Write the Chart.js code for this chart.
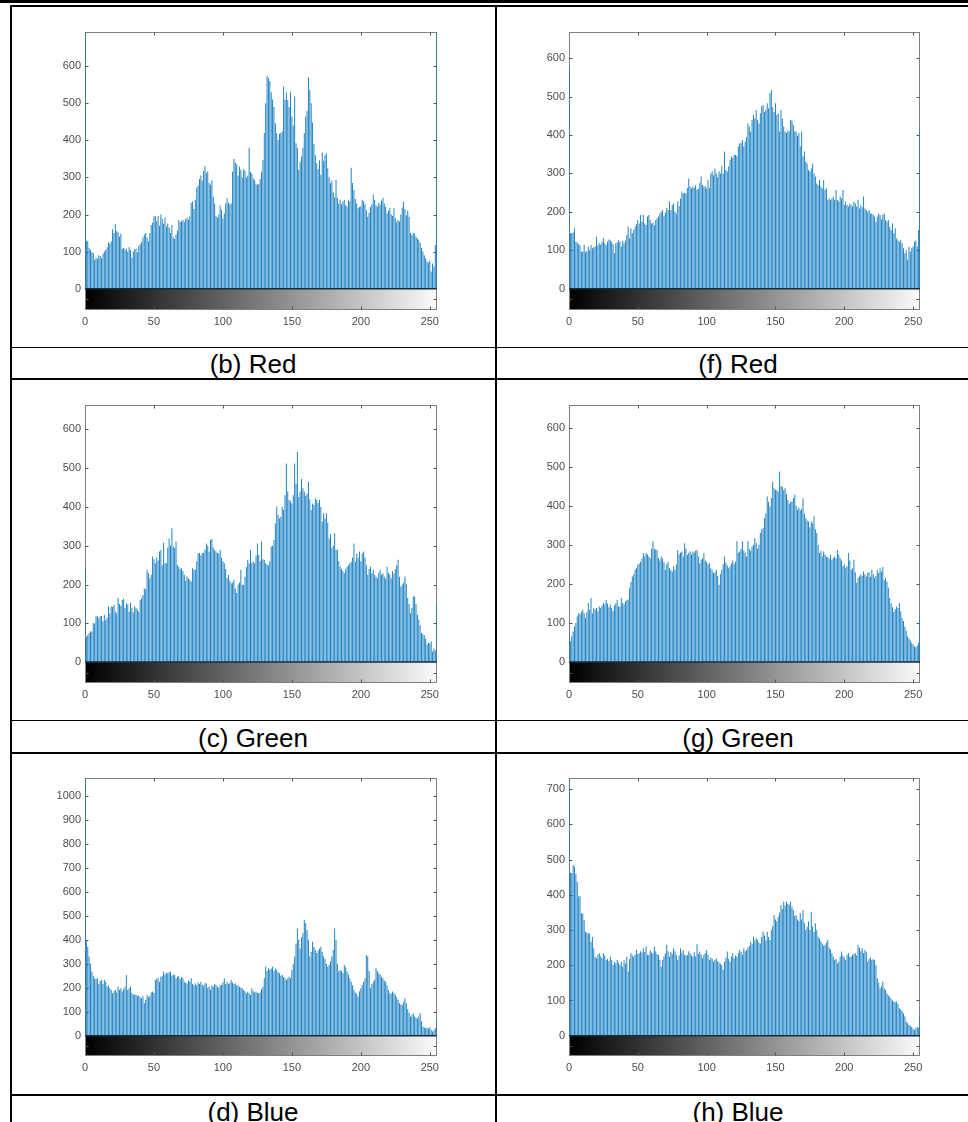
<!DOCTYPE html>
<html><head><meta charset="utf-8">
<script src="https://cdn.jsdelivr.net/npm/chart.js@4"></script>
<style>
html,body{margin:0;padding:0;background:#fff;width:968px;height:1122px;overflow:hidden;position:relative;font-family:"Liberation Sans",Arial,sans-serif}
.ln{position:absolute;background:#000}
.cap{position:absolute;width:400px;text-align:center;font-size:26px;line-height:26px;color:#000;white-space:nowrap}
canvas{position:absolute}
</style></head><body>
<div class="ln" style="left:0;top:0;width:968px;height:3px"></div>
<div class="ln" style="left:10px;top:5px;width:958px;height:2px"></div>
<div class="ln" style="left:10px;top:5px;width:2px;height:1117px"></div>
<div class="ln" style="left:495px;top:5px;width:2px;height:1117px"></div>
<div class="ln" style="left:10px;top:347px;width:958px;height:1px"></div>
<div class="ln" style="left:10px;top:378px;width:958px;height:1.5px"></div>
<div class="ln" style="left:10px;top:720px;width:958px;height:1px"></div>
<div class="ln" style="left:10px;top:752px;width:958px;height:1.5px"></div>
<div class="ln" style="left:10px;top:1094px;width:958px;height:2px"></div>

<canvas id="cB"></canvas><canvas id="cF"></canvas>
<canvas id="cC"></canvas><canvas id="cG"></canvas>
<canvas id="cD"></canvas><canvas id="cH"></canvas>

<div class="cap" style="left:53px;top:351px">(b) Red</div>
<div class="cap" style="left:538px;top:351px">(f) Red</div>
<div class="cap" style="left:53px;top:725px">(c) Green</div>
<div class="cap" style="left:538px;top:725px">(g) Green</div>
<div class="cap" style="left:53px;top:1099px">(d) Blue</div>
<div class="cap" style="left:538px;top:1099px">(h) Blue</div>

<script>
// ---------- data ----------
const bins = Array.from({length:256},(_,i)=>i); // gray levels 0..255
const xTickValues = [0,50,100,150,200,250];
const yTicks600 = [0,100,200,300,400,500,600];
const yTicks1000 = [0,100,200,300,400,500,600,700,800,900,1000];
const yTicks700 = [0,100,200,300,400,500,600,700];

const redB = [693,
130,128,110,105,98,96,78,84,80,90,
88,82,94,100,104,112,125,122,128,160,
150,174,155,152,140,148,108,110,105,108,
100,112,104,84,100,106,108,98,115,120,
125,138,146,150,138,128,150,172,178,195,
195,182,196,170,200,188,175,192,168,176,
165,150,172,138,134,146,156,185,180,182,
186,180,188,192,186,195,232,236,215,240,
272,278,296,305,292,318,330,312,317,285,
280,292,248,230,196,192,200,224,212,190,
203,230,244,232,228,230,315,350,340,335,
305,329,320,300,322,318,300,305,380,315,
310,298,293,283,280,282,296,315,347,420,
500,574,568,560,530,510,490,446,420,401,
418,420,424,545,510,530,509,490,531,464,
440,518,392,380,320,342,356,380,419,464,
480,570,536,500,448,390,360,338,322,346,
307,367,345,360,365,325,300,284,292,260,
246,293,245,230,240,228,235,240,225,221,
240,235,326,285,266,242,230,217,220,222,
240,236,228,212,194,205,220,228,254,240,
225,221,232,226,238,245,230,220,203,210,
218,200,196,217,190,180,185,181,200,218,
235,214,198,210,194,150,145,150,149,140,
136,131,124,110,100,90,82,73,70,76,
46,68,60,118,693];

const redF = [578,
144,145,146,157,122,120,116,113,96,97,
115,95,98,110,100,114,105,108,110,135,
113,118,115,122,131,118,113,122,128,126,
122,116,92,118,120,126,122,110,125,118,
125,140,161,131,157,144,153,161,168,179,
170,192,175,192,170,166,188,192,179,170,
172,165,179,183,188,196,200,205,190,198,
210,205,227,205,218,222,200,196,227,215,
235,253,248,250,248,262,286,266,261,266,
263,270,258,260,275,292,270,266,266,261,
283,262,300,305,295,313,300,290,305,300,
319,300,357,309,305,318,335,345,340,348,
348,345,370,378,380,387,370,383,395,430,
422,409,439,452,443,465,440,430,457,474,
478,460,465,483,470,509,517,472,460,483,
452,457,409,465,443,422,409,405,412,409,
439,437,426,409,409,398,405,370,409,344,
357,331,326,309,305,313,326,300,292,274,
270,283,266,261,283,257,262,231,235,231,
235,240,231,257,231,227,240,235,257,218,
227,218,214,222,218,214,227,222,214,231,
209,218,212,240,209,205,200,205,196,196,
192,188,174,188,196,192,180,192,196,179,
174,179,161,153,170,144,157,131,126,122,
126,118,105,92,100,75,109,96,105,110,
122,126,110,153,417];

const greenC = [246,
66,70,75,79,79,100,100,118,118,113,
118,119,105,122,108,115,143,126,143,142,
148,130,126,165,150,145,160,163,140,152,
148,130,153,140,128,143,140,135,130,160,
165,172,190,188,238,230,216,225,272,265,
255,270,262,285,289,250,308,255,255,295,
319,300,345,298,294,310,251,245,240,242,
235,225,210,221,215,212,208,242,238,238,
260,280,281,275,281,282,290,306,300,285,
315,318,295,289,285,281,280,289,270,260,
255,240,216,225,210,203,205,212,190,178,
200,205,238,200,199,220,245,264,255,289,
255,260,255,275,306,276,260,311,265,264,
255,251,250,260,298,300,315,358,401,380,
370,375,400,392,430,512,440,418,415,409,
430,512,460,542,426,440,472,448,440,429,
435,465,420,392,409,405,422,418,410,418,
400,362,384,370,384,360,319,330,294,300,
332,290,289,260,246,240,235,229,240,246,
250,255,259,270,306,259,280,270,285,260,
280,285,270,250,225,240,246,230,238,225,
220,216,230,238,225,229,220,215,246,230,
225,216,235,229,240,250,264,220,195,200,
205,221,200,165,150,126,140,170,169,150,
122,110,95,75,72,70,60,45,50,48,
53,27,35,30,152];

const greenG = [74,
53,66,78,91,100,117,125,122,129,134,
125,113,128,151,134,164,125,138,134,138,
130,142,138,145,151,147,159,150,140,147,
138,130,145,150,159,142,142,164,152,148,
155,159,160,189,205,219,225,236,240,249,
252,257,265,279,270,279,275,270,266,290,
309,290,288,287,266,260,270,265,255,236,
250,257,240,235,232,245,236,250,287,275,
280,283,270,304,290,274,280,283,275,283,
280,285,287,270,253,262,265,279,260,257,
250,253,240,235,228,230,236,220,198,225,
236,250,270,255,248,240,245,253,260,250,
257,309,280,283,290,309,285,280,270,309,
290,285,296,300,317,305,290,300,330,340,
343,368,380,424,410,398,420,462,445,441,
440,436,488,450,449,440,445,430,415,405,
410,411,420,428,400,390,395,388,392,419,
380,368,362,360,345,360,355,373,340,330,
300,279,285,270,283,275,270,268,265,274,
262,266,270,265,287,275,266,260,245,250,
240,245,279,260,236,240,262,230,202,215,
219,225,220,232,225,219,228,230,218,236,
225,215,220,235,228,240,232,243,210,215,
206,190,164,150,140,129,135,142,138,151,
130,113,105,91,80,66,60,55,49,45,
40,38,42,49,117];

const blueD = [1074,
399,371,330,300,268,250,239,235,239,215,
228,232,215,232,225,204,210,198,190,177,
185,191,180,204,190,198,185,195,204,253,
190,198,205,178,170,172,170,165,168,160,
156,165,135,150,170,160,165,180,184,178,
232,238,239,225,246,250,268,255,262,260,
265,268,250,255,253,240,246,250,235,245,
239,225,220,218,230,225,239,215,210,218,
210,222,215,225,212,208,220,218,200,205,
191,210,205,215,211,205,200,210,211,222,
239,215,225,215,220,232,222,215,218,208,
210,204,200,198,190,185,177,182,177,170,
198,185,180,184,178,177,180,195,204,240,
288,270,281,275,280,288,270,281,275,265,
260,250,253,245,240,232,240,246,240,274,
300,330,385,448,400,364,410,427,483,470,
441,400,330,350,392,370,357,345,355,364,
371,350,330,320,300,288,295,309,330,357,
448,399,300,268,275,270,260,295,285,268,
255,240,225,210,191,180,175,163,185,198,
210,225,239,337,330,270,198,215,225,232,
281,270,260,255,245,239,230,225,210,190,
177,175,184,178,170,160,150,135,130,128,
140,156,135,110,95,79,85,93,80,75,
72,80,93,60,38,35,31,33,30,35,
25,17,22,31,65];

const blueH = [731,
463,462,485,480,460,437,395,397,348,346,
329,295,293,290,291,267,280,248,224,220,
230,234,225,220,234,228,215,218,212,224,
215,201,210,205,215,208,201,210,196,215,
205,224,182,218,234,228,224,230,243,232,
234,240,236,248,238,253,230,229,242,236,
234,253,240,232,229,215,196,215,225,234,
258,240,224,238,232,248,240,229,215,228,
248,236,243,230,228,229,240,234,228,224,
238,225,260,232,239,230,220,229,235,243,
230,215,222,218,210,215,220,212,208,205,
200,187,210,222,239,218,210,225,234,220,
228,224,235,243,238,230,248,240,243,250,
255,267,260,281,270,277,272,265,262,280,
295,285,270,295,280,272,300,310,343,330,
325,338,350,371,360,381,370,381,375,372,
381,365,357,340,343,330,325,348,330,357,
320,300,310,324,300,352,310,295,319,300,
281,275,268,262,255,258,265,272,250,245,
234,225,215,218,205,210,225,239,228,222,
215,230,234,225,224,230,232,234,228,258,
250,240,248,235,243,238,210,218,222,215,
218,215,200,163,150,134,140,153,135,130,
120,115,110,105,100,97,95,97,90,78,
75,70,63,55,40,35,30,28,25,20,
16,22,25,22,59];

[redB,redF,greenC,greenG,blueD,blueH].forEach((a,k)=>{ if(a.length!==256) console.error('series '+k+' length '+a.length); });

// ---------- drawing ----------
const tickFont = {family:'"Liberation Sans", Arial, sans-serif', size:11};
const tickColor = '#4d4d4d';

const histFrame = {
  id:'histFrame',
  beforeDatasetsDraw(chart){
    const {ctx, chartArea:a, scales:{x,y}} = chart;
    const y0 = y.getPixelForValue(0);
    const g = ctx.createLinearGradient(x.getPixelForValue(0),0,x.getPixelForValue(255),0);
    g.addColorStop(0,'#000'); g.addColorStop(1,'#fafafa');
    ctx.save(); ctx.fillStyle = g;
    ctx.fillRect(a.left, y0, a.right-a.left, a.bottom-y0);
    const L = Math.round(a.left)+0.5, R = Math.round(a.right)-0.5;
    const T = Math.round(a.top)+0.5, B = Math.round(a.bottom)-0.5;
    // box (drawn under the stems so edge bins overlay it)
    ctx.strokeStyle = '#808080'; ctx.lineWidth = 1;
    ctx.strokeRect(L, T, R-L, B-T);
    // inward ticks
    ctx.strokeStyle = '#555'; ctx.beginPath();
    const tl = 3;
    x.ticks.forEach(t=>{
      const px = Math.round(x.getPixelForValue(t.value))+0.5;
      if (t.value>0 && t.value<255){
        ctx.moveTo(px, T); ctx.lineTo(px, T+tl);
        ctx.moveTo(px, B); ctx.lineTo(px, B-tl);
      }
    });
    y.ticks.forEach(t=>{
      if (t.value<=0) return;
      const py = Math.round(y.getPixelForValue(t.value))+0.5;
      ctx.moveTo(L, py); ctx.lineTo(L+tl, py);
      ctx.moveTo(R, py); ctx.lineTo(R-tl, py);
    });
    const cm = Math.round((y0 + a.bottom)/2)+0.5;
    ctx.moveTo(L, cm); ctx.lineTo(L+tl, cm);
    ctx.moveTo(R, cm); ctx.lineTo(R-tl, cm);
    ctx.stroke();
    ctx.restore();
  },
  afterDatasetsDraw(chart){
    const {ctx, chartArea:a, scales:{y}} = chart;
    const y0 = y.getPixelForValue(0);
    ctx.save();
    ctx.strokeStyle = '#1d2a38'; ctx.lineWidth = 1.5;
    ctx.beginPath(); ctx.moveTo(a.left, y0); ctx.lineTo(a.right, y0); ctx.stroke();
    ctx.restore();
  }
};

function makePanel(id, values, yMin, yMax, yTickValues, geo){
  const cv = document.getElementById(id);
  cv.style.left = geo.left+'px'; cv.style.top = geo.top+'px';
  cv.style.width = geo.width+'px'; cv.style.height = geo.height+'px';
  cv.width = geo.width; cv.height = geo.height;
  return new Chart(cv, {
    type:'bar',
    data:{ datasets:[{
      data: bins.map((b,i)=>({x:b, y:values[i]})),
      backgroundColor:'rgba(0,114,189,0.9)',
      borderWidth:0, barPercentage:0.7, categoryPercentage:1,
      clip:0
    }]},
    options:{
      responsive:false, animation:false, events:[],
      layout:{padding:{left:0, top:geo.padTop, right:geo.padRight, bottom:0}},
      plugins:{legend:{display:false}, tooltip:{enabled:false}},
      scales:{
        x:{ type:'linear', min:0, max:255, offset:false,
            grid:{display:false, drawTicks:false}, border:{display:false},
            ticks:{font:tickFont, color:tickColor, padding:5, maxRotation:0, autoSkip:false,
                   callback:v=>String(v)},
            afterBuildTicks:s=>{ s.ticks = xTickValues.map(v=>({value:v})); },
            afterFit:s=>{ s.height = 25; } },
        y:{ type:'linear', min:yMin, max:yMax,
            grid:{display:false, drawTicks:false}, border:{display:false},
            ticks:{font:tickFont, color:tickColor, padding:4, autoSkip:false,
                   callback:v=>String(v)},
            afterBuildTicks:s=>{ s.ticks = yTickValues.map(v=>({value:v})); },
            afterFit:s=>{ s.width = geo.yAxisWidth; } }
      }
    },
    plugins:[histFrame]
  });
}

const leftCol  = {left:30,  width:430, yAxisWidth:55, padRight:23.3};
const rightCol = {left:515, width:428, yAxisWidth:54, padRight:23};

makePanel('cB', redB,   -57.5, 693,  yTicks600,  {...leftCol,  top:15,  height:320,   padTop:16.7});
makePanel('cF', redF,   -55.5, 669,  yTicks600,  {...rightCol, top:15,  height:320,   padTop:16.7});
makePanel('cC', greenC, -54,   663,  yTicks600,  {...leftCol,  top:390, height:318.3, padTop:15});
makePanel('cG', greenG, -53.7, 658,  yTicks600,  {...rightCol, top:390, height:318.3, padTop:15});
makePanel('cD', blueD,  -85,   1074, yTicks1000, {...leftCol,  top:760, height:321,   padTop:18.3});
makePanel('cH', blueH,  -57.7, 731,  yTicks700,  {...rightCol, top:760, height:321,   padTop:18.3});
</script>
</body></html>
